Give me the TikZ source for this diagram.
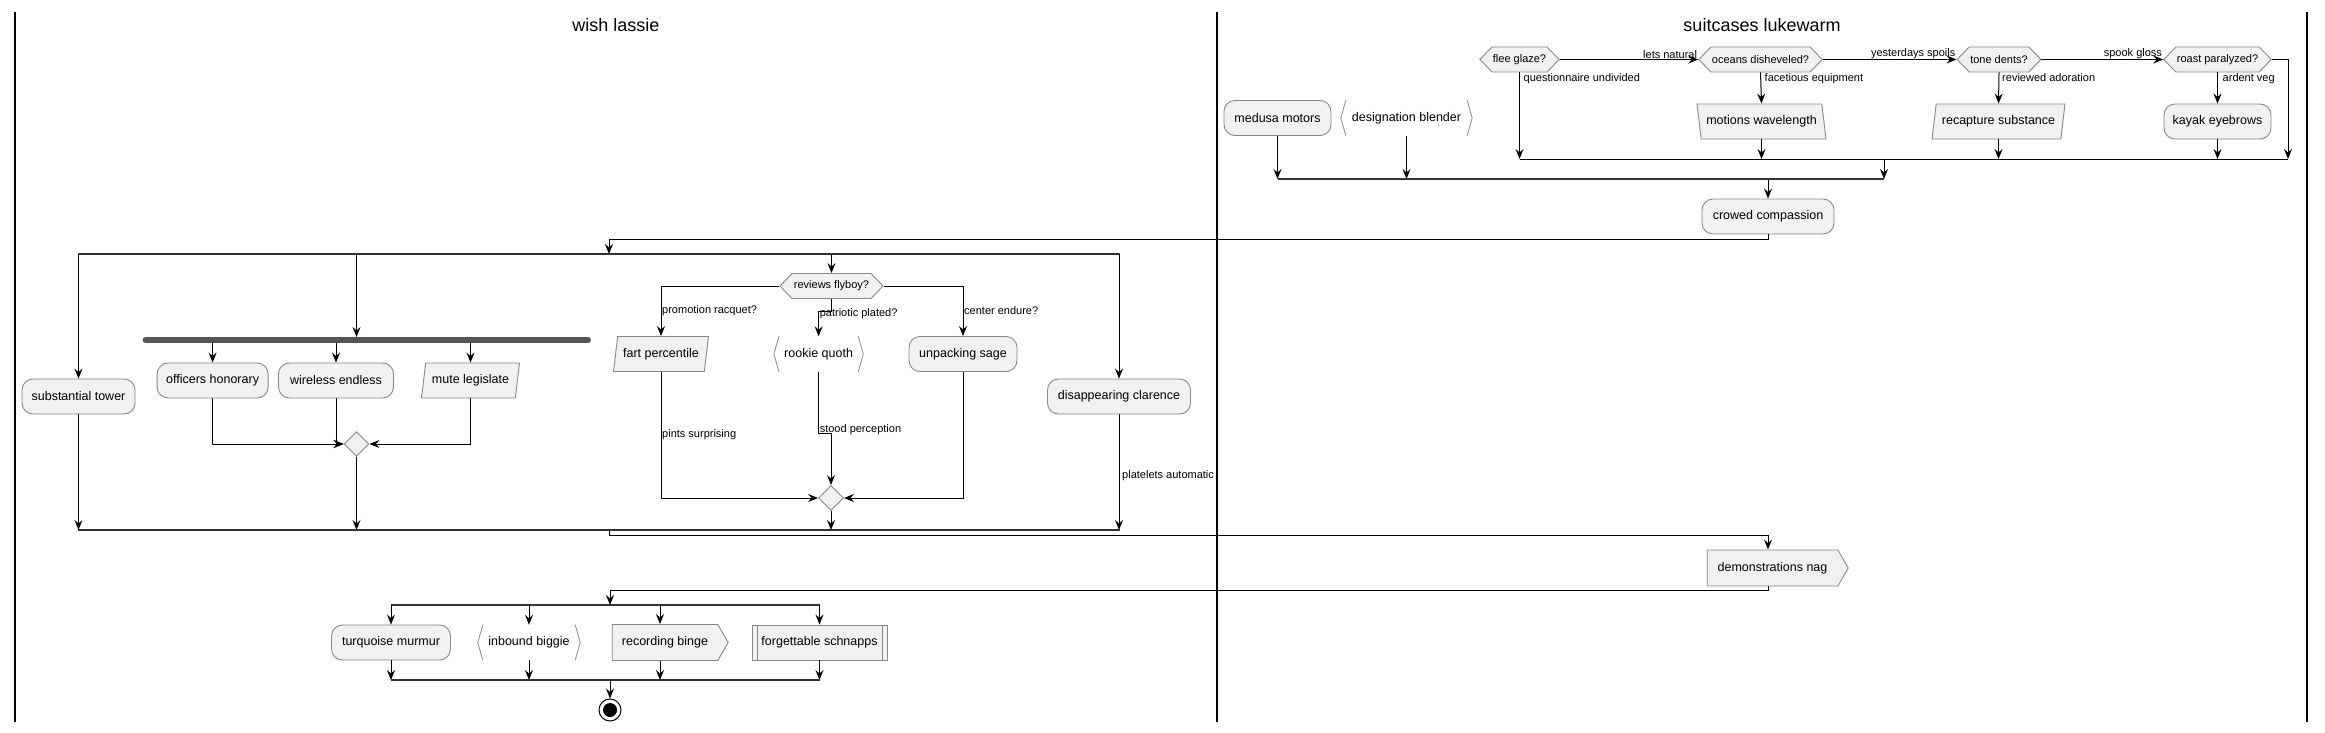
\documentclass[tikz,border=0pt]{standalone}
\usepackage{fontspec}
\setmainfont{Liberation Sans}
\usepackage{tikz}
\usetikzlibrary{positioning,arrows.meta,shapes.geometric,shapes.symbols}

\definecolor{boxfill}{HTML}{F1F1F1}
\definecolor{boxline}{HTML}{888888}
\definecolor{barcol}{HTML}{555555}

\newcommand{\actfont}{\fontsize{12.5}{15}\selectfont}
\newcommand{\lblfont}{\fontsize{11}{13}\selectfont}
\newcommand{\angled}[1]{\draw[brkline] ([xshift=5pt]#1.north west) -- (#1.west) -- ([xshift=5pt]#1.south west)
    ([xshift=-5pt]#1.north east) -- (#1.east) -- ([xshift=-5pt]#1.south east);}

\tikzset{
    act/.style={draw=boxline, fill=boxfill, line width=0.9pt, rounded corners=11pt,
        minimum height=35pt, inner sep=2pt, font=\actfont},
    brk/.style={minimum height=35pt, inner sep=2pt, font=\actfont},
    brkline/.style={draw=boxline, line width=0.8pt},
    hexa/.style={signal, signal to=east and west, signal pointer angle=92, draw=boxline,
        fill=boxfill, line width=0.9pt, minimum height=25pt, inner sep=1pt, font=\lblfont},
    paral/.style={trapezium, trapezium left angle=75, trapezium right angle=105,
        trapezium stretches body, draw=boxline, fill=boxfill, line width=0.9pt,
        minimum height=35pt, inner sep=2pt, font=\actfont},
    paralb/.style={paral, trapezium left angle=105, trapezium right angle=75},
    sendbox/.style={signal, signal to=east, signal pointer angle=120, draw=boxline,
        fill=boxfill, line width=0.9pt, minimum height=36pt, inner sep=2pt, font=\actfont},
    subbox/.style={draw=boxline, fill=boxfill, line width=0.9pt, minimum height=35pt,
        inner sep=2pt, font=\actfont,
        path picture={\draw[boxline, line width=0.9pt]
            ([xshift=5pt]path picture bounding box.north west) -- ([xshift=5pt]path picture bounding box.south west)
            ([xshift=-5pt]path picture bounding box.north east) -- ([xshift=-5pt]path picture bounding box.south east);}},
    merge/.style={diamond, draw=boxline, fill=boxfill, line width=0.9pt, minimum width=25pt,
        minimum height=25pt, inner sep=0pt},
    lbl/.style={inner sep=1pt, font=\lblfont},
}

\begin{document}
\begin{tikzpicture}[x=1pt, y=-1pt,
    flow/.style={line width=1pt, -{Stealth[length=10pt, width=8pt, inset=3.5pt]}},
    forkbar/.style={draw=black!80, line width=2.2pt},
    syncbar/.style={draw=barcol, line width=6pt, line cap=round},
    laneline/.style={draw, line width=1.8pt},
    lanetitle/.style={font=\fontsize{18}{22}\selectfont}]

    \useasboundingbox (0,0) rectangle (2325,733);

    % lanes
    \path[laneline] (15,12) -- (15,722);
    \path[laneline] (1217,12) -- (1217,722);
    \path[laneline] (2307,12) -- (2307,722);
    \node[lanetitle] (lassie) at (616,25) {wish lassie};
    \node[lanetitle] (suitcases) at (1762,25) {suitcases lukewarm};

    \coordinate (f1a) at (609,254);
    \coordinate (f1l) at (78,254);
    \coordinate (f1r) at (1120,254);
    \coordinate (j1a) at (609,530);
    \coordinate (j1l) at (78,530);
    \coordinate (j1r) at (1120,530);
    \coordinate (f3a) at (610,605);
    \coordinate (f3l) at (391,605);
    \coordinate (f3r) at (819.5,605);
    \coordinate (j3a) at (610,680);
    \coordinate (j3l) at (391,680);
    \coordinate (j3r) at (819.5,680);
    \coordinate (s0) at (356.5,337);
    \coordinate (s1) at (145.5,340);
    \coordinate (s2) at (588,340);
    \coordinate (j2a) at (1277.5,179);
    \coordinate (j2b) at (1884,179);
    \coordinate (j2c) at (1519.5,159);
    \coordinate (j2d) at (2288,159);

    % suitcases lukewarm
    \node[act, minimum width=107pt] (medusa) at (1277.5,118) {medusa motors};
    \node[brk, minimum width=131pt] (blender) at (1406.5,118) {designation blender};
    \node[hexa, minimum width=77pt] (flee) at (1519.5,59.5) {flee glaze?};
    \node[hexa, minimum width=123pt] (oceans) at (1760.5,59.5) {oceans disheveled?};
    \node[hexa, minimum width=82pt] (tone) at (1999,59.5) {tone dents?};
    \node[hexa, minimum width=107pt] (roast) at (2217.5,59.5) {roast paralyzed?};
    \node[paralb, minimum width=129pt] (motions) at (1761.5,121.5) {motions wavelength};
    \node[paral, minimum width=133pt] (recapture) at (1998.5,121.5) {recapture substance};
    \node[act, minimum width=107pt] (kayak) at (2217.5,121.5) {kayak eyebrows};
    \node[act, minimum width=132pt] (crowed) at (1768,216.5) {crowed compassion};
    \node[sendbox, minimum width=141pt] (demo) at (1772.5,568) {demonstrations nag};

    % wish lassie
    \node[act, minimum width=113pt] (tower) at (78.5,396.5) {substantial tower};
    \node[act, minimum width=111pt] (officers) at (212.6,380.5) {officers honorary};
    \node[act, minimum width=115pt] (wireless) at (336,380.5) {wireless endless};
    \node[paral, minimum width=98pt] (mute) at (470.5,380.5) {mute legislate};
    \node[merge] (m1) at (356.5,444) {};
    \node[hexa, minimum width=103pt] (flyboy) at (831.5,286) {reviews flyboy?};
    \node[paral, minimum width=95pt] (fart) at (661,354) {fart percentile};
    \node[brk, minimum width=89pt] (rookie) at (818.6,354) {rookie quoth};
    \node[act, minimum width=108pt] (unpacking) at (963,354) {unpacking sage};
    \node[merge] (m2) at (831,498) {};
    \node[act, minimum width=143pt] (clarence) at (1119,396.5) {disappearing clarence};
    \node[act, minimum width=119pt] (turquoise) at (391,642.5) {turquoise murmur};
    \node[brk, minimum width=102pt] (inbound) at (529,642.5) {inbound biggie};
    \node[sendbox, minimum width=116pt] (recording) at (665,642.5) {recording binge};
    \node[subbox, minimum width=135pt] (schnapps) at (819.5,642.5) {forgettable schnapps};
    \node[circle, draw, line width=1pt, fill=white, minimum size=22pt, inner sep=0pt] (stop) at (610,710) {};
    \fill (stop) circle (7pt);

    \angled{blender}
    \angled{rookie}
    \angled{inbound}

    % if chain
    \draw[flow] (flee.east) -- (oceans.west);
    \draw[flow] (oceans.east) -- (tone.west);
    \draw[flow] (tone.east) -- (roast.west);
    \draw[flow] (flee.south) -- (flee.south |- j2c);
    \draw[flow] (oceans.south) -- (motions.north);
    \draw[flow] (tone.south) -- (recapture.north);
    \draw[flow] (roast.south) -- (kayak.north);
    \draw[flow] (roast.east) -| (j2d);
    \draw[flow] (motions.south) -- (motions.south |- j2c);
    \draw[flow] (recapture.south) -- (recapture.south |- j2c);
    \draw[flow] (kayak.south) -- (kayak.south |- j2c);
    \draw[line width=1pt] (j2c) -- (j2d);
    \draw[flow] (j2b |- j2c) -- (j2b);
    \draw[flow] (medusa.south) -- (medusa.south |- j2a);
    \draw[flow] (blender.south) -- (blender.south |- j2a);
    \draw[flow] (crowed.north |- j2a) -- (crowed.north);
    \path[forkbar] (j2a) -- (j2b);
    \node[lbl, anchor=south east] (l1) at (oceans.west) {lets natural};
    \node[lbl, anchor=south east] (l2) at (tone.west) {yesterdays spoils};
    \node[lbl, anchor=south east] (l3) at (roast.west) {spook gloss};
    \node[lbl, anchor=north west] (l4) at ([xshift=3pt]flee.south) {questionnaire undivided};
    \node[lbl, anchor=north west] (l5) at ([xshift=3pt]oceans.south) {facetious equipment};
    \node[lbl, anchor=north west] (l6) at ([xshift=2pt]tone.south) {reviewed adoration};
    \node[lbl, anchor=north west] (l7) at ([xshift=4pt]roast.south) {ardent veg};

    % split
    \draw[flow] (crowed.south) -- ++(0,5) -| (f1a);
    \draw[flow] (tower.north |- f1l) -- (tower.north);
    \draw[flow] (s0 |- f1l) -- (s0);
    \draw[flow] (flyboy.north |- f1l) -- (flyboy.north);
    \draw[flow] (clarence.north |- f1l) -- (clarence.north);
    \path[forkbar] (f1l) -- (f1r);

    \draw[flow] (officers.north |- s1) -- (officers.north);
    \draw[flow] (wireless.north |- s1) -- (wireless.north);
    \draw[flow] (mute.north |- s1) -- (mute.north);
    \path[syncbar] (s1) -- (s2);
    \draw[flow] (officers.south) |- (m1.west);
    \draw[flow] (wireless.south) |- (m1.west);
    \draw[flow] (mute.south) |- (m1.east);

    \draw[flow] (flyboy.west) -| (fart.north);
    \draw[flow] (flyboy.south) -- ++(0,12.7) -| (rookie.north);
    \draw[flow] (flyboy.east) -| (unpacking.north);
    \draw[flow] (fart.south) |- (m2.west);
    \draw[flow] (rookie.south) -- ++(0,61.6) -| (m2.north);
    \draw[flow] (unpacking.south) |- (m2.east);
    \node[lbl, anchor=west] (l8) at ([yshift=25pt]fart.north) {promotion racquet?};
    \node[lbl, anchor=west] (l9) at ([yshift=23pt]rookie.north) {patriotic plated?};
    \node[lbl, anchor=west] (l10) at ([yshift=25pt]unpacking.north) {center endure?};
    \node[lbl, anchor=west] (l11) at ([yshift=-63pt]fart.south) {pints surprising};
    \node[lbl, anchor=west] (l12) at ([yshift=-57.5pt]rookie.south) {stood perception};
    \node[lbl, anchor=west] (l13) at ([xshift=2pt,yshift=-61pt]clarence.south) {platelets automatic};

    \draw[flow] (tower.south) -- (tower.south |- j1l);
    \draw[flow] (m1.south) -- (m1.south |- j1l);
    \draw[flow] (m2.south) -- (m2.south |- j1l);
    \draw[flow] (clarence.south) -- (clarence.south |- j1l);
    \path[forkbar] (j1l) -- (j1r);
    \draw[flow] (j1a) -- ++(0,5) -| (crowed.south |- demo.north);
    \draw[flow] (crowed.south |- demo.south) -- ++(0,4) -| (f3a);

    % last split
    \path[forkbar] (f3l) -- (f3r);
    \draw[flow] (turquoise.north |- f3l) -- (turquoise.north);
    \draw[flow] (inbound.north |- f3l) -- (inbound.north);
    \draw[flow] ([xshift=-5pt]recording.north |- f3l) -- ([xshift=-5pt]recording.north);
    \draw[flow] (schnapps.north |- f3l) -- (schnapps.north);
    \draw[flow] (turquoise.south) -- (turquoise.south |- j3l);
    \draw[flow] (inbound.south) -- (inbound.south |- j3l);
    \draw[flow] ([xshift=-5pt]recording.south) -- ([xshift=-5pt]recording.south |- j3l);
    \draw[flow] (schnapps.south) -- (schnapps.south |- j3l);
    \path[forkbar] (j3l) -- (j3r);
    \draw[flow] (j3a) -- (stop.north);

\end{tikzpicture}
\end{document}
